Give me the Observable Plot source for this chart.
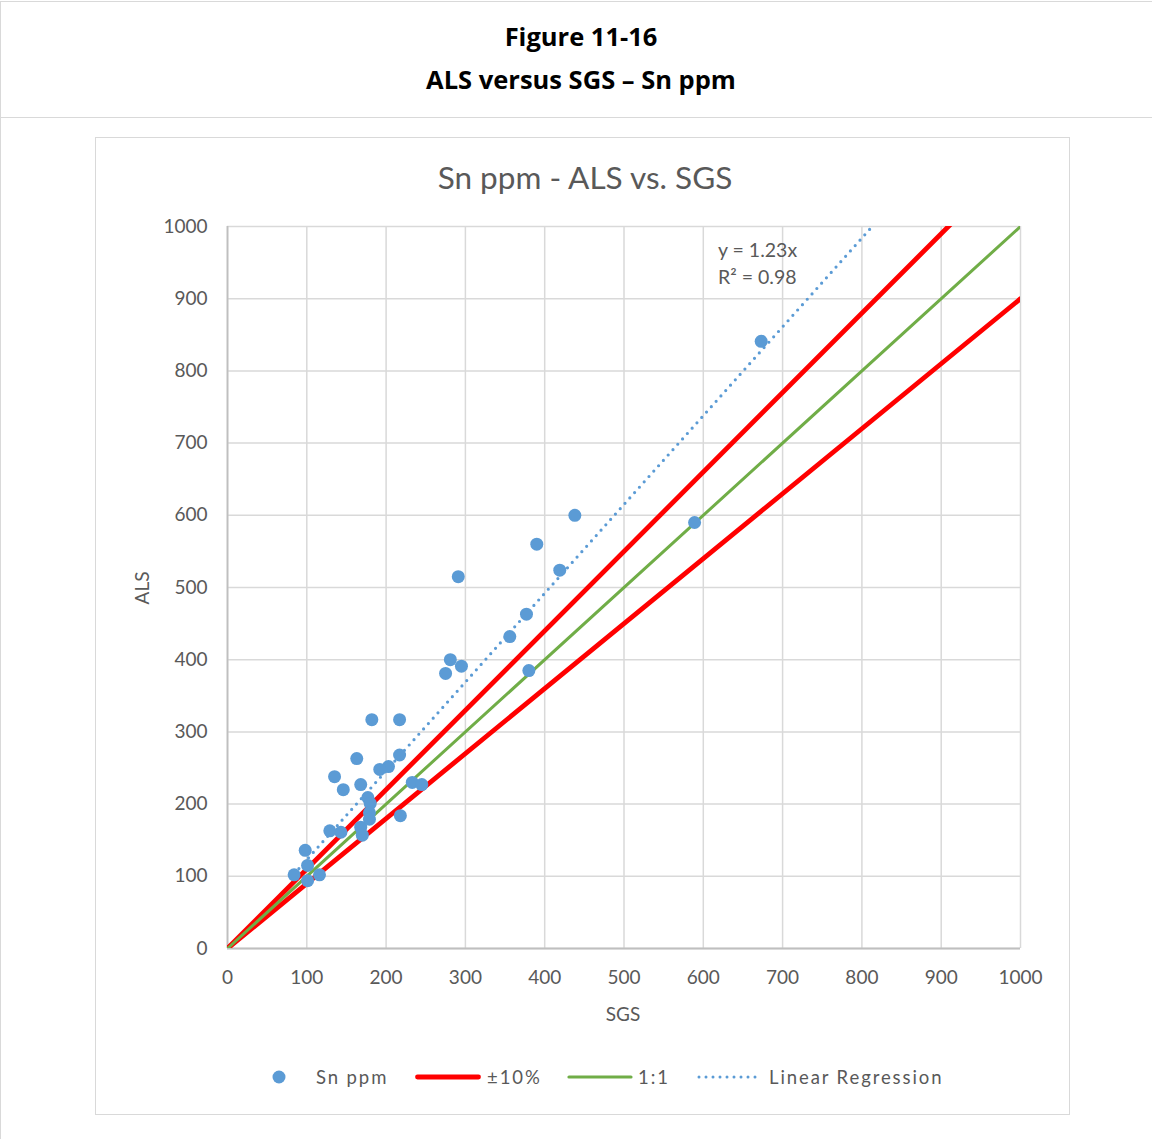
<!DOCTYPE html>
<html>
<head>
<meta charset="utf-8">
<script src="https://cdn.jsdelivr.net/npm/d3@7"></script>
<script src="https://cdn.jsdelivr.net/npm/@observablehq/plot@0.6"></script>
<style>
  html, body { margin: 0; padding: 0; background: #fff; }
  #page { position: relative; width: 1152px; height: 1139px; overflow: hidden; font-family: Lato, "Open Sans", sans-serif; }
  .abs { position: absolute; }
  .hdr { position: absolute; left: 0; width: 1162px; text-align: center; font-family: "Open Sans", sans-serif; font-weight: 700; font-size: 25.5px; color: #000; line-height: 32px; }
  .lg { position: absolute; top: 1064px; height: 26px; line-height: 26px; font-size: 18.5px; color: #595959; letter-spacing: 1.9px; white-space: nowrap; }
</style>
</head>
<body>
<div id="page">
  <div class="abs" style="left:0;top:1px;width:1152px;height:0;border-top:1px solid #d9d9d9"></div>
  <div class="abs" style="left:0;top:1px;width:0;height:1138px;border-left:1px solid #d9d9d9"></div>
  <div class="abs" style="left:0;top:117px;width:1152px;height:0;border-top:1px solid #d9d9d9"></div>
  <div class="hdr" style="top:20px">Figure 11-16</div>
  <div class="hdr" style="top:63px">ALS versus SGS – Sn ppm</div>

  <div class="abs" style="left:95px;top:137px;width:973px;height:976px;border:1px solid #d9d9d9"></div>
  <div class="abs" style="left:99px;top:156px;width:972px;text-align:center;font-size:31.5px;color:#595959;line-height:42px">Sn ppm - ALS vs. SGS</div>
  <div id="chart" class="abs" style="left:96px;top:200px"></div>
  <div class="abs" style="left:523px;top:1000px;width:200px;text-align:center;font-size:19px;color:#595959;line-height:28px">SGS</div>
  <div class="abs" style="left:42px;top:574px;width:200px;text-align:center;font-size:19px;color:#595959;line-height:28px;transform:rotate(-90deg)">ALS</div>
  <div id="eq" class="abs" style="left:718px;top:236px;font-size:19.5px;color:#595959;line-height:27px"></div>
  <div id="legend"></div>
</div>
<script>
// ---- data ----
const sgs = [673, 589, 438, 390, 419, 291, 377, 356, 380, 281, 275, 295,
             182, 217, 217, 163, 203, 192, 168, 135, 146, 233, 245, 177,
             180, 179, 179, 218, 129, 143, 168, 170, 98, 101, 84, 116, 101];
const als = [841, 590, 600, 560, 524, 515, 463, 432, 385, 400, 381, 391,
             317, 317, 268, 263, 252, 248, 227, 238, 220, 230, 227, 209,
             201, 188, 179, 184, 163, 161, 168, 157, 136, 115, 102, 102, 94];
const xTicks = [0, 100, 200, 300, 400, 500, 600, 700, 800, 900, 1000];
const yTicks = [0, 100, 200, 300, 400, 500, 600, 700, 800, 900, 1000];
const axisDomain = [0, 1000];
const bandFactors = [1.1, 0.9];     // ±10%
const unitSlope = [1];              // 1:1
const regSlope = 1.23;              // Linear Regression (through origin)
const regR2 = 0.98;
const seriesNames = ["Sn ppm", "±10%", "1:1", "Linear Regression"];

// ---- tables built from the arrays ----
const points = sgs.map((x, i) => ({x, y: als[i]}));
const bandLines = bandFactors.flatMap(f => axisDomain.map(x => ({x, y: x * f, k: String(f)})));
const unitLine = unitSlope.flatMap(f => axisDomain.map(x => ({x, y: x * f})));
const regLine = [d3.min(sgs), axisDomain[1]].map(x => ({x, y: x * regSlope}));

const RED = "#ff0000", GREEN = "#70ad47", BLUE = "#5b9bd5", GRID = "#d9d9d9";
const fmt = d => String(d);

const chart = Plot.plot({
  width: 972,
  height: 845,
  marginLeft: 131,
  marginRight: 48,
  marginTop: 26,
  marginBottom: 97,
  style: {background: "transparent", fontFamily: "Lato, 'Open Sans', sans-serif", fontSize: "19px", color: "#595959", overflow: "visible"},
  x: {domain: axisDomain},
  y: {domain: axisDomain},
  marks: [
    Plot.gridX(xTicks, {stroke: GRID, strokeOpacity: 1, strokeWidth: 1.5}),
    Plot.gridY(yTicks, {stroke: GRID, strokeOpacity: 1, strokeWidth: 1.5}),
    Plot.ruleX([axisDomain[0]], {stroke: "#bfbfbf", strokeWidth: 1.8}),
    Plot.ruleY([axisDomain[0]], {stroke: "#bfbfbf", strokeWidth: 1.8}),
    Plot.axisX({ticks: xTicks, tickFormat: fmt, tickSize: 0, tickPadding: 22, label: null, fill: "#595959"}),
    Plot.axisY({ticks: yTicks, tickFormat: fmt, tickSize: 0, tickPadding: 20, label: null, fill: "#595959"}),
    Plot.line(bandLines, {x: "x", y: "y", z: "k", stroke: RED, strokeWidth: 4.8, clip: true}),
    Plot.line(unitLine, {x: "x", y: "y", stroke: GREEN, strokeWidth: 3, clip: true}),
    Plot.line(regLine, {x: "x", y: "y", stroke: BLUE, strokeWidth: 3.2, strokeDasharray: "0 7.2", strokeLinecap: "round", clip: true}),
    Plot.dot(points, {x: "x", y: "y", r: 6.5, fill: BLUE, stroke: "none"})
  ]
});
document.getElementById("chart").appendChild(chart);

document.getElementById("eq").innerHTML =
  `y = ${regSlope}x<br>R² = ${regR2.toFixed(2)}`;

// ---- legend ----
const legend = document.getElementById("legend");
const swatches = [
  {left: 270, w: 18, svg: `<circle cx="9" cy="13" r="6.5" fill="${BLUE}"/>`, textLeft: 316},
  {left: 415, w: 66, svg: `<line x1="2.5" y1="13" x2="63.5" y2="13" stroke="${RED}" stroke-width="4.8" stroke-linecap="round"/>`, textLeft: 487},
  {left: 567, w: 66, svg: `<line x1="2" y1="13" x2="64" y2="13" stroke="${GREEN}" stroke-width="3.2" stroke-linecap="round"/>`, textLeft: 638},
  {left: 697, w: 66, svg: `<line x1="2" y1="13" x2="64" y2="13" stroke="${BLUE}" stroke-width="3" stroke-dasharray="0 7" stroke-linecap="round"/>`, textLeft: 769}
];
swatches.forEach((s, i) => {
  const sw = document.createElement("div");
  sw.className = "abs";
  sw.style.cssText = `left:${s.left}px;top:1064px;width:${s.w}px;height:26px`;
  sw.innerHTML = `<svg width="${s.w}" height="26">${s.svg}</svg>`;
  legend.appendChild(sw);
  const t = document.createElement("div");
  t.className = "lg";
  t.style.left = s.textLeft + "px";
  t.textContent = seriesNames[i];
  legend.appendChild(t);
});
</script>
</body>
</html>
